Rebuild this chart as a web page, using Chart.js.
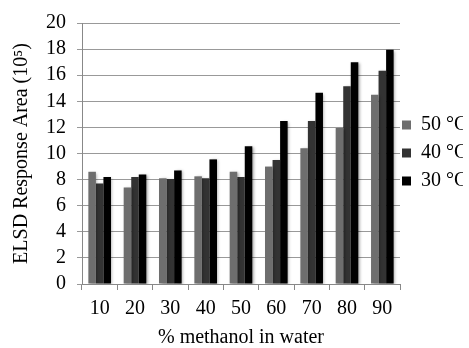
<!DOCTYPE html>
<html>
<head>
<meta charset="utf-8">
<script src="https://cdn.jsdelivr.net/npm/chart.js@4"></script>
<style>
  html, body { margin: 0; padding: 0; background: #fff; overflow: hidden; }
  #wrap { width: 469px; height: 348px; }
</style>
</head>
<body>
<div id="wrap"><canvas id="c"></canvas></div>
<script>
const categories = ['10', '20', '30', '40', '50', '60', '70', '80', '90'];
const series50 = [8.6, 7.4, 8.1, 8.25, 8.6, 9.0, 10.4, 11.95, 14.5];
const series40 = [7.7, 8.2, 8.05, 8.1, 8.2, 9.5, 12.5, 15.15, 16.35];
const series30 = [8.2, 8.4, 8.7, 9.55, 10.55, 12.5, 14.65, 17.0, 17.95];
const seriesNames = ['50 °C', '40 °C', '30 °C'];
const yTicks = [0, 2, 4, 6, 8, 10, 12, 14, 16, 18, 20];

const font = 'Liberation Serif';

// soft drop shadow behind the bars, like the office chart
const barShadow = {
  id: 'barShadow',
  beforeDatasetsDraw(chart) {
    const ctx = chart.ctx;
    ctx.save();
    ctx.shadowColor = 'rgba(0,0,0,0.35)';
    ctx.shadowBlur = 3;
    ctx.shadowOffsetX = 1.5;
    ctx.shadowOffsetY = 1;
  },
  afterDatasetsDraw(chart) {
    chart.ctx.restore();
  }
};

// nudge legend closer to the plot and up to the middle of it
const legendNudge = {
  id: 'legendNudge',
  afterLayout(chart) {
    chart.legend.left -= 6;
    chart.legend.right -= 6;
    chart.legend.top -= 31;
    chart.legend.bottom -= 31;
  }
};

new Chart(document.getElementById('c'), {
  type: 'bar',
  data: {
    labels: categories,
    datasets: [
      { label: seriesNames[0], data: series50, backgroundColor: '#6e6e6e' },
      { label: seriesNames[1], data: series40, backgroundColor: '#333333' },
      { label: seriesNames[2], data: series30, backgroundColor: '#000000' }
    ]
  },
  plugins: [barShadow, legendNudge],
  options: {
    responsive: true,
    maintainAspectRatio: false,
    animation: false,
    datasets: { bar: { categoryPercentage: 0.64, barPercentage: 1.0 } },
    layout: { padding: { top: 20, right: 0, left: 0, bottom: 0 } },
    plugins: {
      legend: {
        position: 'right',
        align: 'center',
        maxWidth: 69,
        labels: {
          color: '#000',
          font: { family: font, size: 20 },
          boxWidth: 9,
          boxHeight: 9,
          padding: 8
        }
      },
      tooltip: { enabled: false }
    },
    scales: {
      x: {
        grid: { drawOnChartArea: false, color: '#888', tickLength: 6 },
        border: { color: '#888' },
        ticks: { color: '#000', font: { family: font, size: 20 }, padding: 7 },
        title: {
          display: true, text: '% methanol in water', color: '#000',
          font: { family: font, size: 20, lineHeight: 1 }, padding: { top: 0, bottom: 0 }
        }
      },
      y: {
        min: 0,
        max: 20,
        afterBuildTicks(axis) { axis.ticks = yTicks.map(v => ({ value: v })); },
        ticks: { color: '#000', font: { family: font, size: 20 }, padding: 11, autoSkip: false },
        grid: { color: '#999', tickLength: 5 },
        border: { color: '#888' },
        title: {
          display: true, text: 'ELSD Response Area (10⁵)', color: '#000',
          font: { family: font, size: 20 }, padding: { top: 10, bottom: 1 }
        }
      }
    }
  }
});
</script>
</body>
</html>
